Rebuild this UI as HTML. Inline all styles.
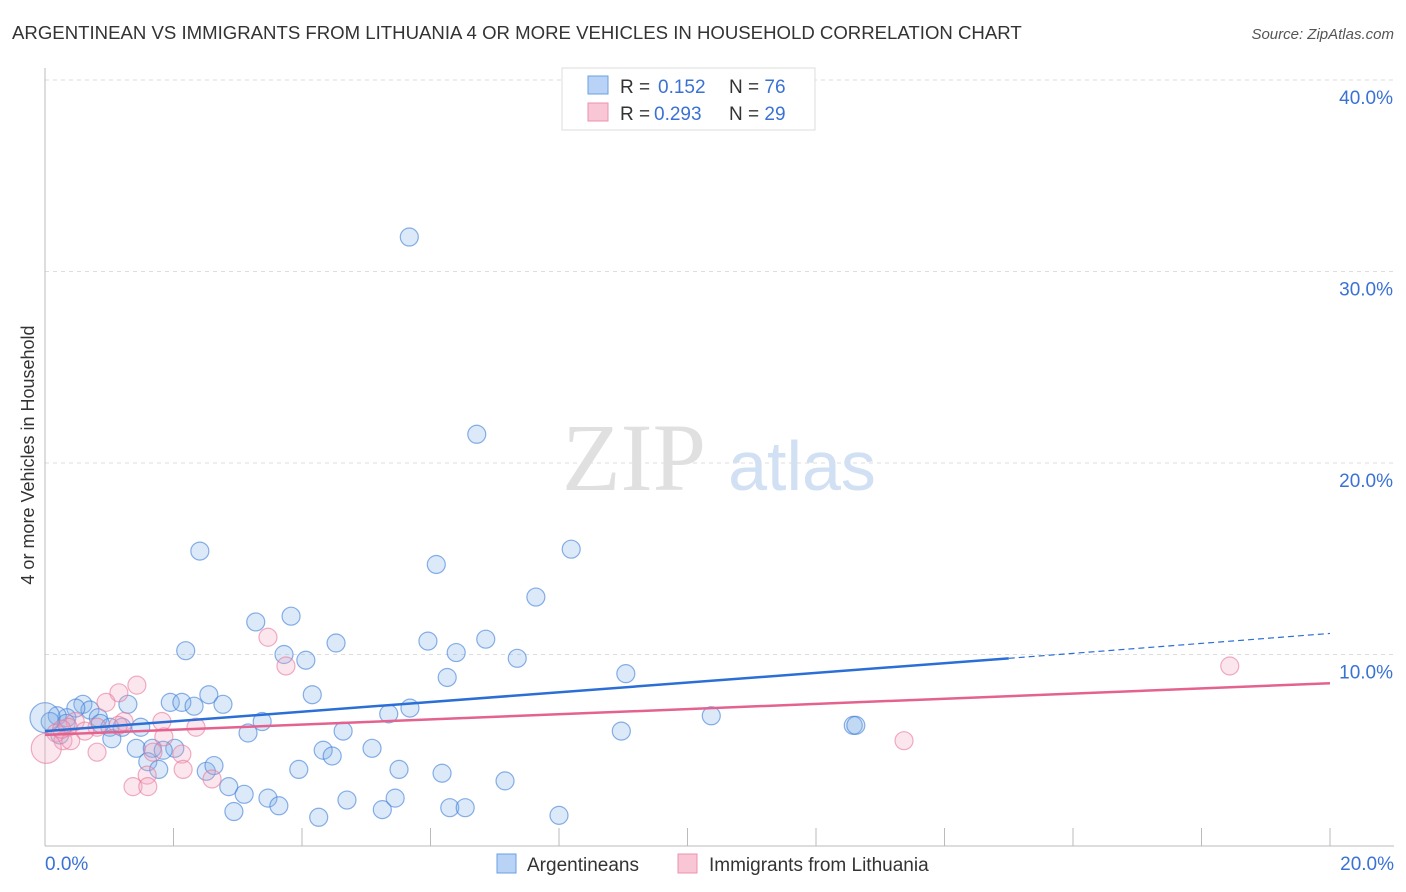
<!DOCTYPE html>
<html><head><meta charset="utf-8"><style>
body{margin:0;background:#fff;font-family:"Liberation Sans",sans-serif;}
</style></head><body>
<svg width="1406" height="892" style="display:block">
<text x="12" y="39" font-size="18.6" fill="#333">ARGENTINEAN VS IMMIGRANTS FROM LITHUANIA 4 OR MORE VEHICLES IN HOUSEHOLD CORRELATION CHART</text>
<text x="1394" y="39" font-size="15" fill="#555" font-style="italic" text-anchor="end">Source: ZipAtlas.com</text>
<g id="grid"></g>
<text x="634" y="490" font-size="96" fill="#e0e0e0" font-family="Liberation Serif" text-anchor="middle">ZIP</text>
<text x="802" y="490" font-size="70" fill="#d2e0f3" text-anchor="middle">atlas</text>
<g id="pts"></g>
<g id="lines"></g>
<text x="34" y="455" font-size="18" fill="#333" text-anchor="middle" transform="rotate(-90 34 455)">4 or more Vehicles in Household</text>
<g>
<rect x="562" y="68" width="253" height="62" fill="#fff" stroke="#ddd"/>
<rect x="588" y="76" width="20" height="18" fill="#b8d3f5" stroke="#6a9fe0"/>
<rect x="588" y="103" width="20" height="18" fill="#f9c6d5" stroke="#ec93ad"/>
<text x="620" y="93" font-size="19" fill="#333">R = <tspan x="658" fill="#3a72d4">0.152</tspan><tspan x="729">N = </tspan><tspan fill="#3a72d4">76</tspan></text>
<text x="620" y="120" font-size="19" fill="#333">R = <tspan x="654" fill="#3a72d4">0.293</tspan><tspan x="729">N = </tspan><tspan fill="#3a72d4">29</tspan></text>
</g>
<g>
<rect x="497" y="854" width="19" height="19" fill="#b8d3f5" stroke="#6a9fe0"/>
<text x="527" y="871" font-size="19" fill="#333">Argentineans</text>
<rect x="678" y="854" width="19" height="19" fill="#f9c6d5" stroke="#ec93ad"/>
<text x="709" y="871" font-size="19" fill="#333">Immigrants from Lithuania</text>
</g>
</svg>
<script>
const yTicks=[10,20,30,40];
const xTickLabels=["0.0%","20.0%"];
const blueX=[5.67,6.72,2.41,8.19,6.09,7.64,3.28,3.83,2.19,3.72,4.06,4.53,5.96,6.86,6.40,7.35,9.04,6.26,4.16,2.55,1.95,2.13,2.32,2.77,1.29,0.59,0.70,0.48,0.34,0.83,1.01,1.20,1.49,3.38,3.16,4.64,5.35,5.68,8.97,10.37,12.58,12.62,1.04,1.42,1.67,2.02,1.84,1.60,1.77,2.51,2.63,3.95,4.33,4.47,5.09,5.51,6.18,7.16,2.86,3.10,3.47,3.64,2.94,4.26,4.70,5.25,5.45,6.30,6.54,8.00,0.19,0.08,0.23,0.33,0.0,0.86];
const blueY=[31.8,21.5,15.4,15.5,14.7,13.0,11.7,12.0,10.2,10.0,9.7,10.6,10.7,10.8,10.1,9.8,9.0,8.8,7.9,7.9,7.5,7.5,7.3,7.4,7.4,7.4,7.1,7.2,6.7,6.7,6.2,6.2,6.2,6.5,5.9,6.0,6.9,7.2,6.0,6.8,6.3,6.3,5.6,5.1,5.1,5.1,5.0,4.4,4.0,3.9,4.2,4.0,5.0,4.7,5.1,4.0,3.8,3.4,3.1,2.7,2.5,2.1,1.8,1.5,2.4,1.9,2.5,2.0,2.0,1.6,6.8,6.5,5.8,6.4,6.7,6.4];
const blueR=[9,9,9,9,9,9,9,9,9,9,9,9,9,9,9,9,9,9,9,9,9,9,9,9,9,9,9,9,9,9,9,9,9,9,9,9,9,9,9,9,9,9,9,9,9,9,9,9,9,9,9,9,9,9,9,9,9,9,9,9,9,9,9,9,9,9,9,9,9,9,9,9,9,9,15,9];
const pinkX=[3.47,3.75,1.43,1.15,0.95,1.82,2.35,1.23,0.81,0.47,0.36,0.17,0.28,0.40,0.81,0.02,1.85,1.68,2.13,2.15,1.59,1.37,1.60,2.60,13.37,18.44,1.14,0.62,0.26];
const pinkY=[10.9,9.4,8.4,8.0,7.5,6.5,6.2,6.5,6.2,6.5,6.2,5.9,5.5,5.5,4.9,5.1,5.7,4.9,4.8,4.0,3.7,3.1,3.1,3.5,5.5,9.4,6.3,6.0,6.1];
const pinkR=[9,9,9,9,9,9,9,9,9,9,9,9,9,9,9,15,9,9,9,9,9,9,9,9,9,9,9,9,9];
const blueTrend=[0,6.0,15,9.8,20,11.1];
const pinkTrend=[0,5.8,20,8.5];
const X=v=>45+v*64.25, Y=v=>846-v*19.15;
const NS="http://www.w3.org/2000/svg";
function mk(t,a,p){const e=document.createElementNS(NS,t);for(const k in a)e.setAttribute(k,a[k]);p.appendChild(e);return e;}
const g=document.getElementById('grid');
yTicks.forEach(t=>{const l=mk('line',{x1:45,x2:1394,y1:Y(t),y2:Y(t),stroke:'#ddd','stroke-dasharray':'4,4'},g);


const tx=mk('text',{x:1393,y:Y(t)+24,'font-size':19,fill:'#3a72d4','text-anchor':'end'},g);tx.textContent=t.toFixed(1)+'%';

});
const ax=mk('line',{x1:45,x2:1394,y1:846,y2:846,stroke:'#bbb'},g);


const ay=mk('line',{x1:45,x2:45,y1:68,y2:846,stroke:'#bbb'},g);


for(let i=0;i<=20;i+=2){const t=mk('line',{x1:X(i),x2:X(i),y1:828,y2:846,stroke:'#bbb'},g);

}
[[0,'start',45],[20,'end',1394]].forEach((d,i)=>{const t=mk('text',{x:d[2],y:870,'font-size':19,fill:'#3a72d4','text-anchor':d[1]},g);t.textContent=xTickLabels[i];

});
const p=document.getElementById('pts');
blueX.forEach((v,i)=>{const c=mk('circle',{cx:X(v),cy:Y(blueY[i]),r:blueR[i],fill:'rgba(130,175,235,0.28)',stroke:'rgba(60,125,215,0.6)','stroke-width':1.2},p);

});
pinkX.forEach((v,i)=>{const c=mk('circle',{cx:X(v),cy:Y(pinkY[i]),r:pinkR[i],fill:'rgba(245,165,190,0.28)',stroke:'rgba(230,120,155,0.6)','stroke-width':1.2},p);

});
const L=document.getElementById('lines');
const b1=mk('line',{x1:X(blueTrend[0]),y1:Y(blueTrend[1]),x2:X(blueTrend[2]),y2:Y(blueTrend[3]),stroke:'#2b6fd6','stroke-width':2.5},L);


const b2=mk('line',{x1:X(blueTrend[2]),y1:Y(blueTrend[3]),x2:X(blueTrend[4]),y2:Y(blueTrend[5]),stroke:'#2b6fd6','stroke-width':1.2,'stroke-dasharray':'6,4'},L);


const p1=mk('line',{x1:X(pinkTrend[0]),y1:Y(pinkTrend[1]),x2:X(pinkTrend[2]),y2:Y(pinkTrend[3]),stroke:'#e4628f','stroke-width':2.5},L);


</script>
</body></html>
